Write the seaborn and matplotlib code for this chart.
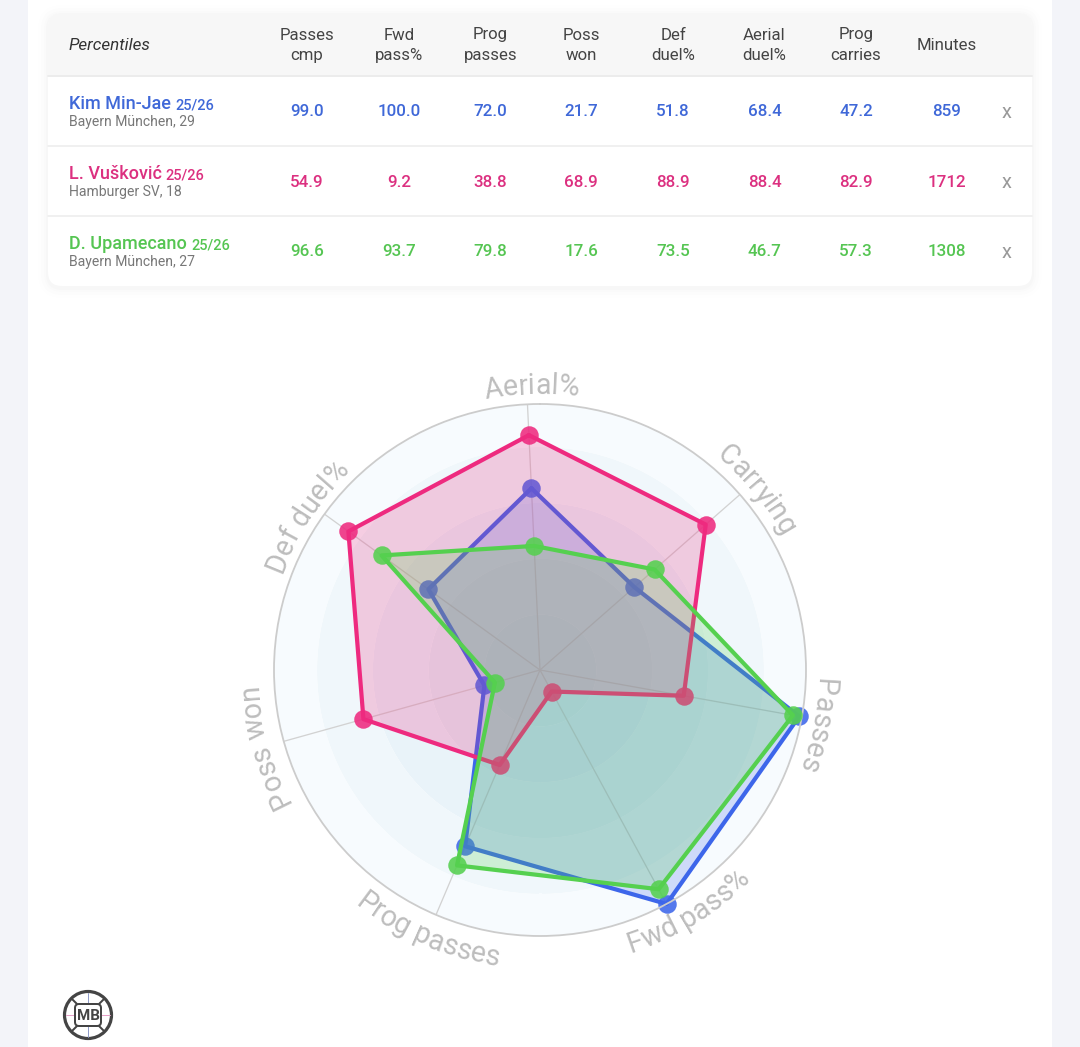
import numpy as np
import pandas as pd
import matplotlib
matplotlib.use("Agg")
import matplotlib.pyplot as plt
from matplotlib.font_manager import FontProperties
from matplotlib.patches import Circle, FancyBboxPatch, Rectangle
import seaborn as sns

# === DATA ===
columns = ["Passes\ncmp", "Fwd\npass%", "Prog\npasses", "Poss\nwon", "Def\nduel%",
           "Aerial\nduel%", "Prog\ncarries", "Minutes"]
players = ["Kim Min-Jae", "L. Vušković", "D. Upamecano"]
seasons = ["25/26", "25/26", "25/26"]
clubs = ["Bayern München, 29", "Hamburger SV, 18", "Bayern München, 27"]
colors = ["#3d66ea", "#ee2a7f", "#55d04f"]
text_colors = ["#3f68d8", "#dc3080", "#55c552"]

passes_cmp = [99.0, 54.9, 96.6]
fwd_pass = [100.0, 9.2, 93.7]
prog_passes = [72.0, 38.8, 79.8]
poss_won = [21.7, 68.9, 17.6]
def_duel = [51.8, 88.9, 73.5]
aerial_duel = [68.4, 88.4, 46.7]
prog_carries = [47.2, 82.9, 57.3]
minutes = [859, 1712, 1308]

radar_labels = ["Aerial%", "Carrying", "Passes", "Fwd pass%", "Prog passes", "Poss won", "Def duel%"]
radar_series = [aerial_duel, prog_carries, passes_cmp, fwd_pass, prog_passes, poss_won, def_duel]

# === STYLE ===
sns.set_theme(style="white")
plt.rcParams["font.family"] = ["Roboto", "DejaVu Sans"]

W, H = 1080, 1047
CX, CY, R = 540, 670, 266
PT = 72 / 100  # px -> pt at dpi 100

fig = plt.figure(figsize=(W / 100, H / 100), dpi=100)
bg = fig.add_axes([0, 0, 1, 1])
bg.set_xlim(0, W)
bg.set_ylim(H, 0)
bg.axis("off")

# === PAGE AND TABLE CARD ===
bg.add_patch(Rectangle((0, 0), W, H, color="#f3f4f9", zorder=0))
bg.add_patch(FancyBboxPatch((28, -30), 1024, H + 60, boxstyle="round,pad=0,rounding_size=22",
                            fc="white", ec="none", zorder=0.1))
for pad, a in [(10, 0.005), (7, 0.006), (4, 0.008), (2, 0.01)]:
    bg.add_patch(FancyBboxPatch((48 - pad, 13 - pad + 2), 984 + 2 * pad, 273 + 2 * pad,
                                boxstyle=f"round,pad=0,rounding_size={14 + pad}",
                                fc="black", ec="none", alpha=a, zorder=0.2))
card = FancyBboxPatch((48, 13), 984, 273, boxstyle="round,pad=0,rounding_size=14",
                      fc="white", ec="none", zorder=0.3)
bg.add_patch(card)
header = Rectangle((48, 13), 984, 63, fc="#f7f7f7", ec="none", zorder=0.4)
bg.add_patch(header)
header.set_clip_path(card)
for y, lw in [(76, 2), (146, 1.5), (216, 1.5)]:
    bg.plot([48, 1032], [y, y], color="#ececec", lw=lw * PT, zorder=0.5)

col_x = [307, 399, 490.5, 581, 673, 764.5, 856, 947]
row_base = [116, 187, 256]
name_base = [109, 179, 249]
club_base = [126, 196, 266]
x_base = [118, 188, 258]

bg.text(69, 50, "Percentiles", fontsize=17 * PT, style="italic", color="#333333", ha="left", va="baseline")
for x, c in zip(col_x, columns):
    if "\n" in c:
        top, bottom = c.split("\n")
        bg.text(x, 39.5, top, fontsize=16.8 * PT, color="#444444", ha="center", va="baseline")
        bg.text(x, 60, bottom, fontsize=16.8 * PT, color="#444444", ha="center", va="baseline")
    else:
        bg.text(x, 50, c, fontsize=16.8 * PT, color="#444444", ha="center", va="baseline")

renderer = fig.canvas.get_renderer()
table_cols = [passes_cmp, fwd_pass, prog_passes, poss_won, def_duel, aerial_duel, prog_carries]
for i, name in enumerate(players):
    t = bg.text(69, name_base[i], name, fontsize=18 * PT, weight="medium", color=text_colors[i],
                ha="left", va="baseline")
    x1 = bg.transData.inverted().transform(t.get_window_extent(renderer))[1, 0]
    bg.text(x1 + 4, name_base[i], seasons[i], fontsize=14.5 * PT, weight="medium", color=text_colors[i],
            ha="left", va="baseline")
    bg.text(69, club_base[i], clubs[i], fontsize=14 * PT, color="#777777", ha="left", va="baseline")
    for x, vals in zip(col_x, table_cols):
        bg.text(x, row_base[i], f"{vals[i]:.1f}", fontsize=17 * PT, weight="medium",
                color=text_colors[i], ha="center", va="baseline")
    bg.text(col_x[-1], row_base[i], str(minutes[i]), fontsize=17 * PT, weight="medium",
            color=text_colors[i], ha="center", va="baseline")
    bg.text(1007, x_base[i], "x", fontsize=20 * PT, color="#999999", ha="center", va="baseline")

# === RADAR ===
ax = fig.add_axes([(CX - R) / W, 1 - (CY + R) / H, 2 * R / W, 2 * R / H], projection="polar")
ax.patch.set_alpha(0)
ax.set_theta_zero_location("N")
ax.set_theta_direction(-1)

START_DEG = -2.7
axis_deg = [START_DEG + i * 360 / len(radar_labels) for i in range(len(radar_labels))]
theta = np.radians(axis_deg) % (2 * np.pi)

full = np.linspace(0, 2 * np.pi, 360)
ring_edges = [0, 21, 42, 63, 84, 100]
ring_colors = ["#e0edf4", "#e4eff6", "#e9f3f9", "#f0f7fb", "#f7fbfe"]
for r0, r1, c in zip(ring_edges[:-1], ring_edges[1:], ring_colors):
    ax.fill_between(full, r0, r1, color=c, lw=0, zorder=0.1)

ax.set_axisbelow(True)
ax.set_xticks(theta)
ax.set_xticklabels([])
ax.set_yticks([])
ax.xaxis.grid(True, color="#d2d2d2", lw=1 * PT * 1.3)
ax.yaxis.grid(False)
ax.spines["polar"].set_color("#cccccc")
ax.spines["polar"].set_linewidth(1.8 * PT)

# draw order in the reference: blue, pink, green on top
for i in range(len(players)):
    vals = [s[i] for s in radar_series]
    df = pd.DataFrame({"theta": np.append(theta, theta[0]), "value": vals + vals[:1]})
    z = 2 + i
    ax.fill(df["theta"], df["value"], color=colors[i], alpha=0.22, lw=0, zorder=z)
    sns.lineplot(data=df, x="theta", y="value", ax=ax, sort=False, estimator=None,
                 color=colors[i], lw=4.2 * PT, zorder=z + 0.1, clip_on=False)
    sns.scatterplot(data=df.iloc[:-1], x="theta", y="value", ax=ax, color=colors[i],
                    s=(18.5 * PT) ** 2, linewidth=0, alpha=0.88, zorder=z + 0.2, clip_on=False)
ax.set_xlabel("")
ax.set_ylabel("")
ax.set_xlim(0, 2 * np.pi)
ax.set_ylim(0, 100)

# === CURVED AXIS LABELS ===
label_fp = FontProperties(family="Roboto", size=28.5 * PT)
label_mid = [-1.7, 50.3, 101.3, 148.5, 203.2, 254.6, 303.4]
label_radii = [286, 286, 287, 287, 289, 292, 286]
flipped = [False, False, False, True, True, False, False]
half_height = 10

def text_width(s):
    return renderer.get_text_width_height_descent(s, label_fp, False)[0]

for label, mid, label_r, flip in zip(radar_labels, label_mid, label_radii, flipped):
    r_base = label_r + half_height if flip else label_r - half_height
    total = text_width(label)
    sign = -1 if flip else 1
    for k, ch in enumerate(label):
        if ch == " ":
            continue
        s = text_width(label[:k + 1]) - text_width(ch) / 2 - total / 2
        ang = mid + sign * np.degrees(s / r_base)
        px = CX + r_base * np.sin(np.radians(ang))
        py = CY - r_base * np.cos(np.radians(ang))
        rot = 180 - ang if flip else -ang
        bg.text(px, py, ch, fontproperties=label_fp, color="#bdbdbd", rotation=rot,
                rotation_mode="anchor", ha="center", va="baseline")

# === LOGO ===
LX, LY = 88, 1015
bg.add_patch(Circle((LX, LY), 23.5, fc="white", ec="#444444", lw=3.2 * PT, zorder=1))
for d, c in [((-22, 0, -10, 0), "#e6a0c8"), ((10, 0, 22, 0), "#e6a0c8"),
             ((0, -22, 0, -10), "#8f9bc8"), ((0, 10, 0, 22), "#8f9bc8")]:
    bg.plot([LX + d[0], LX + d[2]], [LY + d[1], LY + d[3]], color=c, lw=1 * PT, zorder=1.1)
for dx, dy in [(-11, -11), (11, -11), (-11, 11), (11, 11)]:
    bg.plot([LX + dx, LX + dx * 1.4], [LY + dy, LY + dy * 1.4], color="#444444", lw=2 * PT, zorder=1.1)
bg.add_patch(FancyBboxPatch((LX - 13, LY - 11), 26, 22, boxstyle="round,pad=0,rounding_size=4",
                            fc="white", ec="#444444", lw=2 * PT, zorder=1.2))
bg.text(LX, LY + 0.5, "MB", fontsize=15 * PT, weight="bold", color="#444444", ha="center",
        va="center", zorder=1.3)

fig.savefig("out.png", dpi=100)
